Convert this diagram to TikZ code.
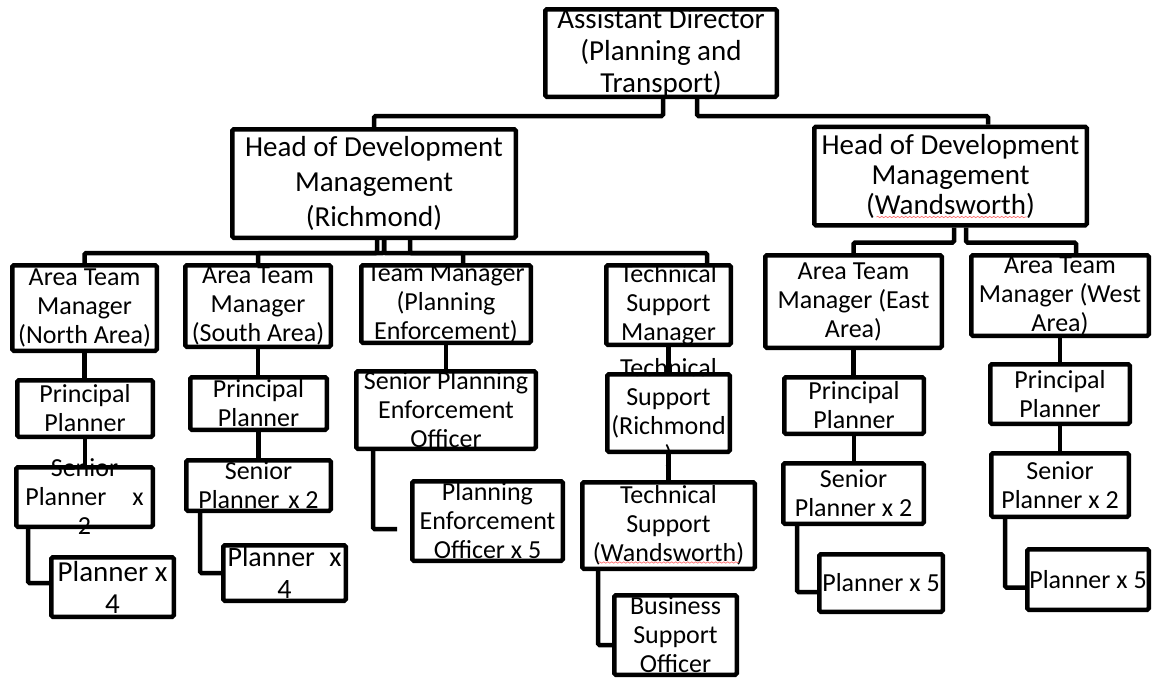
\documentclass[tikz,border=0pt]{standalone}
\usepackage{fontspec}
\setmainfont{Carlito}
\usetikzlibrary{decorations.pathmorphing}

\tikzset{
  box/.style={draw, line width=4.5pt, rounded corners=1.5pt, inner sep=0pt},
  sz/.style 2 args={minimum width=#1, minimum height=#2},
  conn/.style={line width=4.5pt, rounded corners=1.5pt},
  txt/.style={align=center, inner sep=0pt, font=\fontsize{26}{29}\selectfont},
  bigtxt/.style={txt, font=\fontsize{29}{32}\selectfont},
  squig/.style={draw=red!55, line width=0.7pt, decorate, decoration={snake, amplitude=0.7pt, segment length=4pt}},
}

\begin{document}
\begin{tikzpicture}[x=1pt, y=-1pt]
  \useasboundingbox (0,0) rectangle (1153,680);

  % top
  \node[box, sz={231.5}{87.5}, label={[bigtxt]center:{Assistant Director\\(Planning and\\Transport)}}] (ad) at (661,53) {};

  % heads
  \node[box, sz={283.5}{108.5}, label={[txt, font=\fontsize{29}{35}\selectfont]center:{Head of Development\\Management\\(Richmond)}}] (rich) at (374,183.5) {};
  \node[box, sz={272.5}{98.5}, label={[txt, font=\fontsize{29}{30}\selectfont]center:{Head of Development\\Management\\(Wandsworth)}}] (wand) at (950.5,176) {};

  % team managers
  \node[box, sz={144.5}{85.5}, label={[txt]center:{Area Team\\Manager\\(North Area)}}] (north) at (84.5,308) {};
  \node[box, sz={145.5}{81.5}, label={[txt]center:{Area Team\\Manager\\(South Area)}}] (south) at (258,306) {};
  \node[box, sz={169.5}{77.5}, label={[txt]center:{Team Manager\\(Planning\\Enforcement)}}] (pet) at (446,304) {};
  \node[box, sz={124.5}{79.5}, label={[txt]center:{Technical\\Support\\Manager}}] (tsm) at (668.5,305) {};
  \node[box, sz={176.5}{92.5}, label={[txt]center:{Area Team\\Manager (East\\Area)}}] (east) at (853.5,301.5) {};
  \node[box, sz={177.5}{80.5}, label={[txt]center:{Area Team\\Manager (West\\Area)}}] (west) at (1060,295.5) {};

  % north area
  \node[box, sz={135.5}{56.5}, label={[txt]center:{Principal\\Planner}}] (npp) at (85,408.5) {};
  \node[box, sz={136.5}{59.5}, label={[txt]center:{Senior\\Planner\hspace{20pt} x\\2}}] (nsp) at (84.5,497) {};
  \node[box, sz={122.5}{59.5}, label={[bigtxt]center:{Planner x\\4}}] (npl) at (112.5,587) {};

  % south area
  \node[box, sz={136.5}{52.5}, label={[txt]center:{Principal\\Planner}}] (spp) at (258.5,403.5) {};
  \node[box, sz={144.5}{50.5}, label={[txt]center:{Senior\\Planner\hspace{3pt} x 2}}] (ssp) at (258.5,485.5) {};
  \node[box, sz={122.5}{55.5}, label={[txt, font=\fontsize{28}{32}\selectfont]center:{Planner\hspace{8pt} x\\4}}] (spl) at (284.5,573) {};

  % enforcement
  \node[box, sz={179.5}{77.5}, label={[txt]center:{Senior Planning\\Enforcement\\Officer}}] (speo) at (446,410) {};
  \node[box, sz={150.5}{79.5}, label={[txt]center:{Planning\\Enforcement\\Officer x 5}}] (peo) at (487.5,521) {};

  % technical support
  \node[box, sz={122.5}{77.5}, label={[txt]center:{Technical\\Support\\(Richmond\\)}}] (tsr) at (668.5,413) {};
  \node[box, sz={172.5}{86.5}, label={[txt]center:{Technical\\Support\\(Wandsworth)}}] (tsw) at (668.5,525.5) {};
  \node[box, sz={122.5}{79.5}, label={[txt]center:{Business\\Support\\Officer}}] (bso) at (675.5,635) {};

  % east area
  \node[box, sz={139.5}{56.5}, label={[txt]center:{Principal\\Planner}}] (epp) at (854,405.5) {};
  \node[box, sz={140.5}{60.5}, label={[txt]center:{Senior\\Planner x 2}}] (esp) at (853.5,493.5) {};
  \node[box, sz={123.5}{57.5}, label={[txt]center:{Planner x 5}}] (epl) at (881,583) {};

  % west area
  \node[box, sz={139.5}{59.5}, label={[txt]center:{Principal\\Planner}}] (wpp) at (1060,394) {};
  \node[box, sz={137.5}{63.5}, label={[txt]center:{Senior\\Planner x 2}}] (wsp) at (1060,485) {};
  \node[box, sz={121.5}{60.5}, label={[txt]center:{Planner x 5}}] (wpl) at (1088,579.5) {};

  % spell-check marks
  \draw[squig] ([shift={(-74,41)}]wand.center) -- ([shift={(76,41)}]wand.center);
  \draw[squig] ([shift={(-70,37)}]tsw.center) -- ([shift={(70,37)}]tsw.center);

  % connectors
  \draw[conn] ([xshift=2]ad.south) -- ++(0,17) -| (rich.north);
  \draw[conn] ([xshift=36]ad.south) -- ++(0,17) -| ([xshift=37.5]wand.north);

  \draw[conn] ([xshift=3]rich.south) -- ++(0,13) -| (north.north);
  \draw[conn] ([xshift=10]rich.south) -- ++(0,13) -| (south.north);
  \draw[conn] ([xshift=10]rich.south) -- ++(0,13) -| ([xshift=17]pet.north);
  \draw[conn] ([xshift=36]rich.south) -- ++(0,13) -| ([xshift=38.5]tsm.north);

  \draw[conn] ([xshift=3.5]wand.south) -- ++(0,15) -| (east.north);
  \draw[conn] ([xshift=15.5]wand.south) -- ++(0,15) -| ([xshift=16]west.north);

  \foreach \a/\b in {north/npp, npp/nsp, south/spp, spp/ssp, pet/speo, tsm/tsr, tsr/tsw, east/epp, epp/esp, west/wpp, wpp/wsp}
    \draw[conn] (\a.south) -- (\a.south |- \b.north);

  \draw[conn] ([xshift=14]nsp.south west) |- ([yshift=4]npl.west);
  \draw[conn] ([xshift=16]ssp.south west) |- (spl.west);
  \draw[conn] ([xshift=19]speo.south west) |- ([xshift=-13,yshift=-8]peo.west);
  \draw[conn] ([xshift=18]tsw.south west) |- ([yshift=-10]bso.west);
  \draw[conn] ([xshift=16]esp.south west) |- ([yshift=-9]epl.west);
  \draw[conn] ([xshift=16]wsp.south west) |- ([yshift=-8]wpl.west);
\end{tikzpicture}
\end{document}
